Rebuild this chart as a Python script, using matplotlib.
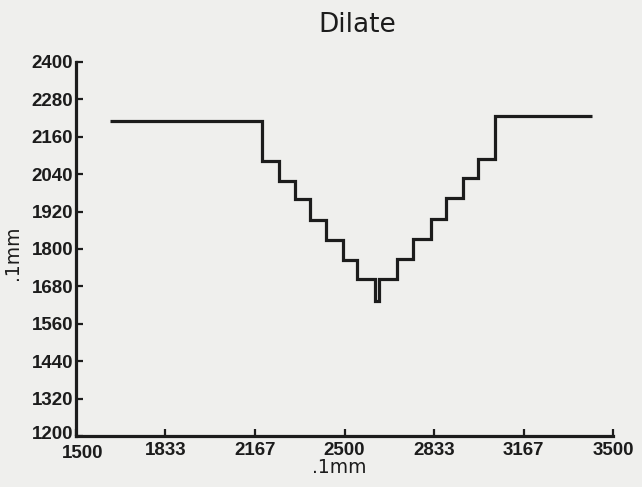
import matplotlib
matplotlib.use("Agg")
import matplotlib.pyplot as plt
from matplotlib.transforms import ScaledTranslation

# Dilate profile (units of .1 mm)
bordas_x = [1626, 2194, 2255, 2314, 2373, 2432, 2495, 2548, 2612, 2629,
            2694, 2756, 2822, 2878, 2941, 2999, 3059, 3420]
niveis_y = [2210, 2082, 2019, 1959, 1894, 1830, 1764, 1703, 1633,
            1705, 1768, 1831, 1897, 1963, 2029, 2089, 2227]

ticks_x = [1500, 1833, 2167, 2500, 2833, 3167, 3500]
ticks_y = [1200, 1320, 1440, 1560, 1680, 1800, 1920, 2040, 2160, 2280, 2400]

COR_PAPEL = "#efefed"
COR_TINTA = "#1c1c1c"

plt.rcParams["font.family"] = ["Liberation Sans", "DejaVu Sans"]

fig = plt.figure(figsize=(6.42, 4.87), dpi=100, facecolor=COR_PAPEL)
ax = fig.add_axes([76 / 642, 1 - 436 / 487, 537 / 642, 374 / 487])
ax.set_facecolor(COR_PAPEL)

ax.stairs(niveis_y, bordas_x, baseline=None, color=COR_TINTA, linewidth=2.3)

ax.set_xlim(1500, 3500)
ax.set_ylim(1200, 2400)
ax.set_xticks(ticks_x)
ax.set_yticks(ticks_y)
ax.set_xticklabels([str(v) for v in ticks_x], fontweight="bold", fontsize=13.5)
ax.set_yticklabels([str(v) for v in ticks_y], fontweight="bold", fontsize=13.5)

for lado in ("top", "right"):
    ax.spines[lado].set_visible(False)
for lado in ("left", "bottom"):
    ax.spines[lado].set_linewidth(2.3)
    ax.spines[lado].set_color(COR_TINTA)
    ax.spines[lado].set_capstyle("projecting")

ax.tick_params(direction="in", length=5, width=1.6, color=COR_TINTA,
               labelcolor=COR_TINTA)
ax.tick_params(axis="x", pad=4)
ax.tick_params(axis="y", pad=2)

# no original o 1200 e o 1500 quase se tocam no canto; afasta um pouco
# (depois do tick_params, que refaz as transformacoes dos rotulos)
canto_x = ax.xaxis.get_major_ticks()[0].label1
canto_x.set_transform(canto_x.get_transform()
                      + ScaledTranslation(7 / 100, -3 / 100, fig.dpi_scale_trans))
canto_y = ax.yaxis.get_major_ticks()[0].label1
canto_y.set_transform(canto_y.get_transform()
                      + ScaledTranslation(0, 3 / 100, fig.dpi_scale_trans))

ax.set_xlabel(".1mm", fontsize=13.5, color=COR_TINTA, family="DejaVu Sans")
ax.xaxis.set_label_coords(0.49, -0.058)
ax.set_ylabel(".1mm", fontsize=13.5, color=COR_TINTA, family="DejaVu Sans")
ax.yaxis.set_label_coords(-0.1, 0.49)

fig.text(357 / 642, 1 - 25 / 487, "Dilate", fontsize=19, color=COR_TINTA,
         ha="center", va="center", family="DejaVu Sans")

fig.savefig("out.png", dpi=100, facecolor=COR_PAPEL)
